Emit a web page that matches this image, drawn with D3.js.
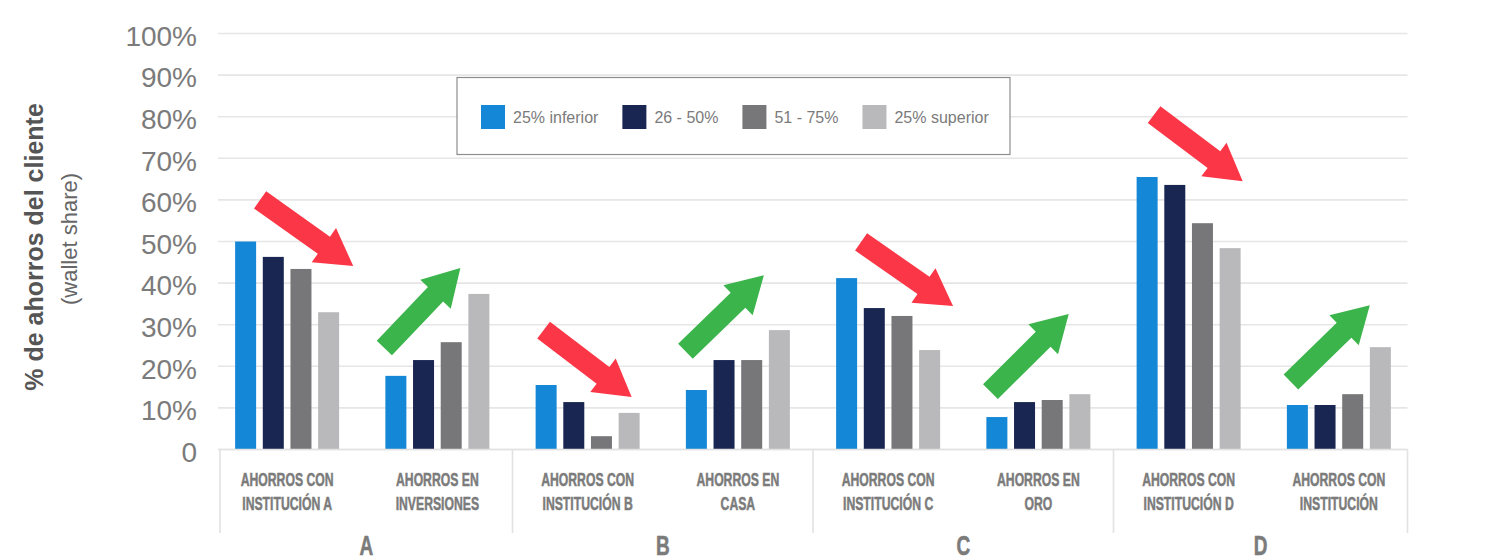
<!DOCTYPE html>
<html>
<head>
<meta charset="utf-8">
<script src="https://cdn.jsdelivr.net/npm/d3@7"></script>
<style>
  html, body { margin: 0; padding: 0; background: #ffffff; }
  svg { display: block; }
</style>
</head>
<body>
<svg id="chart" width="1491" height="560"></svg>
<script>
// ---------------- DATA ----------------
const categories = [
  "AHORROS CON\nINSTITUCIÓN A",
  "AHORROS EN\nINVERSIONES",
  "AHORROS CON\nINSTITUCIÓN B",
  "AHORROS EN\nCASA",
  "AHORROS CON\nINSTITUCIÓN C",
  "AHORROS EN\nORO",
  "AHORROS CON\nINSTITUCIÓN D",
  "AHORROS CON\nINSTITUCIÓN"
];
const groups = ["A", "B", "C", "D"];
const series = ["25% inferior", "26 - 50%", "51 - 75%", "25% superior"];

const valuesInferior = [50.0, 17.7, 15.5, 14.3, 41.2, 7.8, 65.5, 10.7];
const values26to50   = [46.3, 21.5, 11.4, 21.5, 34.0, 11.4, 63.6, 10.7];
const values51to75   = [43.4, 25.8, 3.2, 21.5, 32.1, 11.9, 54.4, 13.3];
const valuesSuperior = [33.0, 37.4, 8.8, 28.7, 23.9, 13.3, 48.4, 24.6];

const yTickValues = [0, 10, 20, 30, 40, 50, 60, 70, 80, 90, 100];
const yTickLabels = ["0", "10%", "20%", "30%", "40%", "50%", "60%", "70%", "80%", "90%", "100%"];

// trend arrow annotations: per category, tail/tip as (offset in band steps, value %)
const trendArrows = [
  { cat: 0, tail: [-0.18, 60.0], tip: [0.44, 44.1] },
  { cat: 1, tail: [-0.353, 24.4], tip: [0.153, 43.6] },
  { cat: 2, tail: [-0.293, 28.7], tip: [0.293, 12.6] },
  { cat: 3, tail: [-0.349, 23.6], tip: [0.173, 41.9] },
  { cat: 4, tail: [-0.18, 49.9], tip: [0.432, 34.5] },
  { cat: 5, tail: [-0.319, 13.9], tip: [0.202, 32.6] },
  { cat: 6, tail: [-0.23, 80.5], tip: [0.36, 64.5] },
  { cat: 7, tail: [-0.319, 16.2], tip: [0.206, 34.7] }
];

// ---------------- STYLE ----------------
const seriesColors = ["#1487d6", "#1a2652", "#777779", "#b9b9bb"];
const downColor = "#fb3747";
const upColor = "#3ab44b";
const textGray = "#7b7b7b";
const gridColor = "#e6e6e6";

const allValues = [valuesInferior, values26to50, values51to75, valuesSuperior];
const table = categories.map((c, i) => ({
  cat: c, idx: i,
  vals: series.map((s, j) => ({ key: s, j, value: allValues[j][i] }))
}));

// ---------------- SCALES ----------------
const svg = d3.select("#chart");
svg.append("rect").attr("width", 1491).attr("height", 560).attr("fill", "#fff");

const x0 = d3.scaleBand().domain(d3.range(categories.length)).range([212, 1414]).padding(0);
const step = x0.step();
const x1 = d3.scaleBand().domain(series)
  .range([step / 2 - 52, step / 2 + 52]).paddingInner(0.241).paddingOuter(0);
const y = d3.scaleLinear().domain([0, 100]).range([449.5, 33.5]);

const plotLeft = 218, plotRight = 1407.5;

// ---------------- GRID + Y AXIS ----------------
const yAxis = d3.axisLeft(y).tickValues(yTickValues)
  .tickFormat((d, i) => yTickLabels[i]).tickSize(0).tickPadding(0);
const gy = svg.append("g").attr("transform", "translate(197,0)").call(yAxis);
gy.select(".domain").remove();
gy.selectAll("text")
  .attr("fill", textGray)
  .attr("font-family", "'Liberation Sans', Arial, Helvetica, sans-serif")
  .attr("font-size", 28)
  .attr("dy", "0.42em");

svg.append("g").selectAll("line").data(yTickValues).join("line")
  .attr("x1", plotLeft).attr("x2", plotRight)
  .attr("y1", d => y(d)).attr("y2", d => y(d))
  .attr("stroke", gridColor).attr("stroke-width", 1.6);

// ---------------- BARS ----------------
const gBars = svg.append("g").selectAll("g").data(table).join("g")
  .attr("transform", d => `translate(${x0(d.idx)},0)`);
gBars.selectAll("rect").data(d => d.vals).join("rect")
  .attr("x", d => x1(d.key))
  .attr("width", x1.bandwidth())
  .attr("y", d => y(d.value))
  .attr("height", d => y(0) - y(d.value))
  .attr("fill", d => seriesColors[d.j]);

// ---------------- BOTTOM AXIS STRUCTURE ----------------
svg.append("line").attr("x1", plotLeft).attr("x2", plotRight)
  .attr("y1", y(0)).attr("y2", y(0)).attr("stroke", "#e2e2e2").attr("stroke-width", 1.6);

const sepX = groups.map((g, k) => x0(k * 2)).concat([x0.range()[1]]);
sepX[0] = plotLeft + 2;
sepX[sepX.length - 1] = plotRight;
svg.append("g").selectAll("line").data(sepX).join("line")
  .attr("x1", d => d).attr("x2", d => d)
  .attr("y1", y(0)).attr("y2", 533)
  .attr("stroke", "#e2e2e2").attr("stroke-width", 1.6);

// condensed bold label font: measure to derive horizontal compression
const labelFont = "'Liberation Sans Narrow', 'Liberation Sans', Arial, sans-serif";
const probe = svg.append("text").attr("font-family", labelFont).attr("font-weight", "bold")
  .attr("font-size", 18).text("AHORROS CON");
const probeW = probe.node().getComputedTextLength();
probe.remove();
const sx = 93 / probeW;

const catLabels = svg.append("g").selectAll("g").data(categories).join("g")
  .attr("transform", (d, i) => `translate(${x0(i) + step / 2},0)`);
catLabels.each(function (d) {
  const lines = d.split("\n");
  d3.select(this).selectAll("text").data(lines).join("text")
    .attr("transform", (l, k) => `translate(0,${486 + k * 23.5}) scale(${sx},1)`)
    .attr("text-anchor", "middle")
    .attr("font-family", labelFont).attr("font-weight", "bold")
    .attr("font-size", 18).attr("fill", textGray)
    .attr("stroke", textGray).attr("stroke-width", 0.5)
    .text(l => l);
});

svg.append("g").selectAll("text").data(groups).join("text")
  .attr("transform", (g, k) => `translate(${(sepX[k] + sepX[k + 1]) / 2},555) scale(${sx},1)`)
  .attr("text-anchor", "middle")
  .attr("font-family", labelFont).attr("font-weight", "bold")
  .attr("font-size", 28).attr("fill", textGray)
  .attr("stroke", textGray).attr("stroke-width", 0.6)
  .text(g => g);

// ---------------- Y TITLE ----------------
svg.append("text")
  .attr("transform", "translate(43,247) rotate(-90)")
  .attr("text-anchor", "middle")
  .attr("font-family", "'Liberation Sans', Arial, sans-serif")
  .attr("font-weight", "bold").attr("font-size", 25).attr("fill", "#555")
  .text("% de ahorros del cliente");
svg.append("text")
  .attr("transform", "translate(77,239) rotate(-90)")
  .attr("text-anchor", "middle")
  .attr("font-family", "'Liberation Sans', Arial, sans-serif")
  .attr("font-size", 22).attr("fill", "#666")
  .text("(wallet share)");

// ---------------- TREND ARROWS ----------------
function arrowPath(t, p) {
  const dx = p[0] - t[0], dy = p[1] - t[1];
  const L = Math.hypot(dx, dy);
  const ux = dx / L, uy = dy / L, nx = -uy, ny = ux;
  const sw = 10.5, hw = 21, hl = 36;
  const bx = p[0] - ux * hl, by = p[1] - uy * hl;
  const pts = [
    [t[0] + nx * sw, t[1] + ny * sw],
    [bx + nx * sw, by + ny * sw],
    [bx + nx * hw, by + ny * hw],
    [p[0], p[1]],
    [bx - nx * hw, by - ny * hw],
    [bx - nx * sw, by - ny * sw],
    [t[0] - nx * sw, t[1] - ny * sw]
  ];
  return "M" + pts.map(q => q.join(",")).join("L") + "Z";
}
svg.append("g").selectAll("path").data(trendArrows).join("path")
  .attr("d", a => {
    const cx = x0(a.cat) + step / 2;
    const t = [cx + a.tail[0] * step, y(a.tail[1])];
    const p = [cx + a.tip[0] * step, y(a.tip[1])];
    return arrowPath(t, p);
  })
  .attr("fill", a => {
    const first = allValues[0][a.cat], last = allValues[3][a.cat];
    return last < first ? downColor : upColor;
  });

// ---------------- LEGEND ----------------
const legend = svg.append("g");
legend.append("rect").attr("x", 457).attr("y", 77.5).attr("width", 553).attr("height", 77)
  .attr("fill", "#fff").attr("stroke", "#8e8e8e").attr("stroke-width", 1.2);
let lx = 481;
series.forEach((s, j) => {
  legend.append("rect").attr("x", lx).attr("y", 105).attr("width", 24).attr("height", 24)
    .attr("fill", seriesColors[j]);
  const t = legend.append("text").attr("x", lx + 32).attr("y", 123)
    .attr("font-family", "'Liberation Sans', Arial, sans-serif")
    .attr("font-size", 16).attr("fill", textGray).text(s);
  lx += 32 + t.node().getComputedTextLength() + 24;
});
</script>
</body>
</html>
